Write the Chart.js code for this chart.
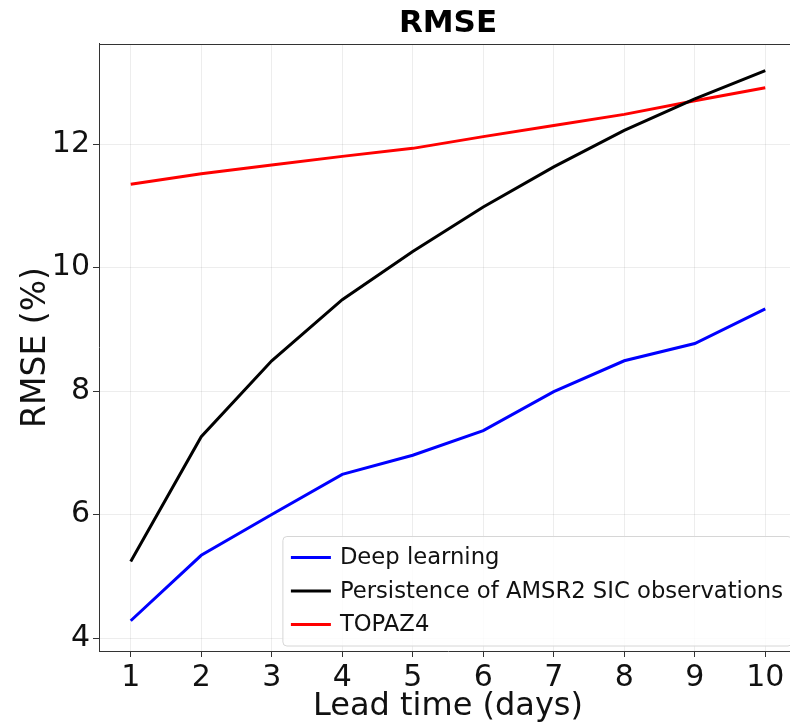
<!DOCTYPE html>
<html>
<head>
<meta charset="utf-8">
<script src="https://cdn.jsdelivr.net/npm/chart.js@4.4.1/dist/chart.umd.min.js"></script>
<style>
  html, body { margin: 0; padding: 0; background: #fff; overflow: hidden; }
  #wrap { width: 800px; height: 724px; position: relative; }
</style>
</head>
<body>
<div id="wrap"><canvas id="chart"></canvas></div>
<script>
// values
const leadDays = [1, 2, 3, 4, 5, 6, 7, 8, 9, 10];
const deepLearning = [4.28, 5.34, 6.00, 6.65, 6.96, 7.36, 7.99, 8.49, 8.77, 9.33];
const persistence = [5.24, 7.26, 8.49, 9.48, 10.26, 10.98, 11.63, 12.22, 12.73, 13.19];
const topaz = [11.35, 11.52, 11.66, 11.80, 11.93, 12.12, 12.30, 12.48, 12.70, 12.91];
const yTicks = [4, 6, 8, 10, 12];
const xTicks = leadDays;

const FONT = "'DejaVu Sans', sans-serif";

function toPoints(vals) {
    return leadDays.map((d, i) => ({ x: d, y: vals[i] }));
}

// legend in the lower right corner, drawn like matplotlib's box
const boxLegend = {
    id: 'boxLegend',
    afterDatasetsDraw(chart) {
        const ctx = chart.ctx;
        const area = chart.chartArea;
        const sets = chart.data.datasets;
        ctx.save();
        ctx.font = '22.7px ' + FONT;
        let maxW = 0;
        sets.forEach(ds => { maxW = Math.max(maxW, ctx.measureText(ds.label).width); });
        const rowH = 33.5;
        const w = 8 + 40 + 9 + maxW + 9;
        const h = sets.length * rowH + 9;
        const right = area.right - 5;
        const bottom = area.bottom - 5;
        const left = right - w;
        const top = bottom - h;
        ctx.beginPath();
        ctx.roundRect(left, top, w, h, 4);
        ctx.fillStyle = 'rgba(255,255,255,0.8)';
        ctx.fill();
        ctx.strokeStyle = '#d6d6d6';
        ctx.lineWidth = 1;
        ctx.stroke();
        sets.forEach((ds, i) => {
            const cy = top + 21 + i * rowH;
            ctx.beginPath();
            ctx.moveTo(left + 8, cy);
            ctx.lineTo(left + 48, cy);
            ctx.strokeStyle = ds.borderColor;
            ctx.lineWidth = 3;
            ctx.stroke();
            ctx.fillStyle = '#111';
            ctx.textBaseline = 'middle';
            ctx.textAlign = 'left';
            ctx.fillText(ds.label, left + 57, cy + 1);
        });
        ctx.restore();
    }
};

// top spine (right one falls outside the window)
const frame = {
    id: 'frame',
    beforeDatasetsDraw(chart) {
        const ctx = chart.ctx;
        const a = chart.chartArea;
        ctx.save();
        ctx.strokeStyle = '#333';
        ctx.lineWidth = 1;
        ctx.beginPath();
        ctx.moveTo(a.left, a.top + 0.5);
        ctx.lineTo(a.right, a.top + 0.5);
        ctx.stroke();
        ctx.restore();
    }
};

const ctx = document.getElementById('chart').getContext('2d');
const chart = new Chart(ctx, {
    type: 'line',
    data: {
        datasets: [
            { label: 'Deep learning', data: toPoints(deepLearning), borderColor: '#0000ff' },
            { label: 'Persistence of AMSR2 SIC observations', data: toPoints(persistence), borderColor: '#000000' },
            { label: 'TOPAZ4', data: toPoints(topaz), borderColor: '#ff0000' }
        ]
    },
    options: {
        responsive: true,
        maintainAspectRatio: false,
        animation: false,
        devicePixelRatio: 1,
        layout: { padding: { left: 0, right: 3, top: 0, bottom: 0 } },
        elements: {
            line: { borderWidth: 3, tension: 0, fill: false },
            point: { radius: 0 }
        },
        plugins: {
            legend: { display: false },
            tooltip: { enabled: false },
            title: {
                display: true,
                text: 'RMSE',
                fullSize: false,
                color: '#000',
                font: { family: FONT, size: 31, weight: 'bold', lineHeight: 1.2 },
                padding: { top: 5, bottom: 1.8 }
            }
        },
        scales: {
            x: {
                type: 'linear',
                min: 0.55,
                max: 10.45,
                afterBuildTicks: s => { s.ticks = xTicks.map(v => ({ value: v })); },
                afterFit: s => { s.height = 73; },
                grid: { color: 'rgba(0,0,0,0.07)', tickColor: '#333', tickLength: 6 },
                border: { color: '#333', width: 1 },
                ticks: {
                    color: '#111',
                    font: { family: FONT, size: 30 },
                    padding: 3,
                    maxRotation: 0,
                    autoSkip: false
                },
                title: {
                    display: true,
                    text: 'Lead time (days)',
                    color: '#111',
                    font: { family: FONT, size: 32, lineHeight: 1.2 },
                    padding: { top: 0, bottom: -2 }
                }
            },
            y: {
                min: 3.79,
                max: 13.62,
                afterBuildTicks: s => { s.ticks = yTicks.map(v => ({ value: v })); },
                afterFit: s => { s.width = 99; },
                grid: { color: 'rgba(0,0,0,0.07)', tickColor: '#333', tickLength: 6 },
                border: { color: '#333', width: 1 },
                ticks: {
                    color: '#111',
                    font: { family: FONT, size: 30 },
                    padding: 3
                },
                title: {
                    display: true,
                    text: 'RMSE (%)',
                    color: '#111',
                    font: { family: FONT, size: 33, lineHeight: 1.2 },
                    padding: { top: 17, bottom: 0 }
                }
            }
        }
    },
    plugins: [frame, boxLegend]
});
</script>
</body>
</html>
